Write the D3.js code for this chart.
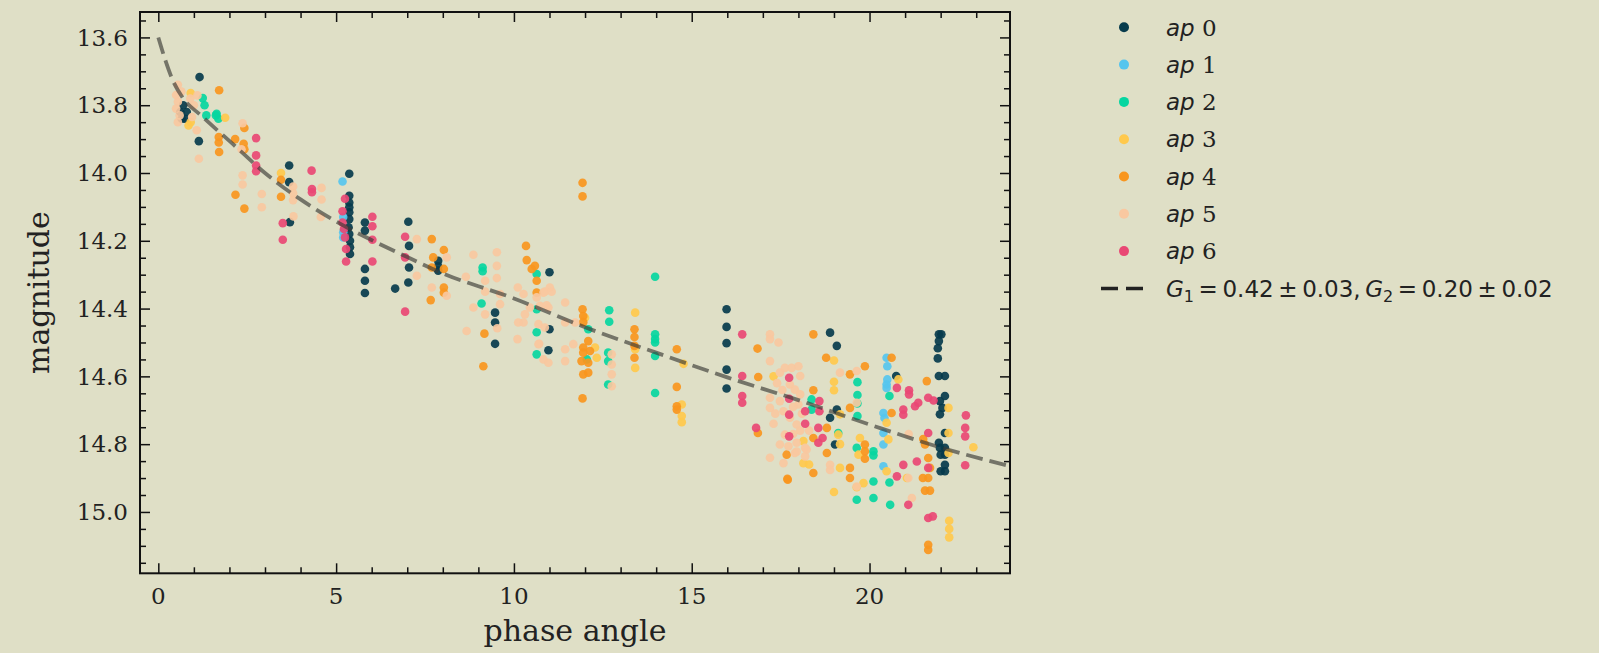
<!DOCTYPE html>
<html><head><meta charset="utf-8">
<script src="https://cdn.jsdelivr.net/npm/d3@7"></script>
<style>html,body{margin:0;padding:0;background:#dfdfc6;}svg{display:block;}</style>
</head><body><svg id="c" width="1599" height="653"></svg>
<script>
const seriesNames = ["0","1","2","3","4","5","6"];
const seriesColors = ["#073B4C","#56C5EE","#06D6A0","#FFC94C","#F8961E","#F9C8A0","#E94874"];

const ap0 = [[0.70,13.80],[0.80,13.82],[0.75,13.84],[0.66,13.84],[0.62,13.82],[1.16,13.717],[1.14,13.906],
[3.68,13.978],[3.68,14.027],[3.70,14.145],[5.37,14.002],[5.37,14.067],[5.37,14.087],[5.37,14.101],[5.37,14.116],[5.37,14.136],[5.35,14.16],[5.37,14.18],[5.39,14.200],[5.39,14.219],[5.39,14.239],
[5.81,14.146],[5.81,14.17],[5.81,14.283],[5.81,14.318],[5.81,14.354],[6.66,14.341],[7.03,14.144],[7.05,14.215],[7.05,14.279],[7.03,14.323],[7.87,14.259],[7.87,14.275],[7.87,14.288],
[9.47,14.412],[9.47,14.441],[9.47,14.504],[11.0,14.293],[11.0,14.461],[10.97,14.523],
[15.98,14.402],[15.98,14.454],[15.98,14.502],[15.98,14.58],[15.98,14.636],
[18.89,14.471],[19.08,14.51],[18.89,14.722],[19.08,14.698],[19.03,14.801],[20.75,14.599],
[21.95,14.476],[22.02,14.476],[21.95,14.496],[21.92,14.517],[21.92,14.547],[21.95,14.599],[22.12,14.599],[22.12,14.658],[21.98,14.673],[22.05,14.693],[21.98,14.712],[22.12,14.767],[21.95,14.796],[21.98,14.811],[22.12,14.811],[22.0,14.831],[22.12,14.831],[22.12,14.861],[22.0,14.88],[22.12,14.88]];
const ap1 = [[5.18,14.025],[5.2,14.13],[5.2,14.175],[5.2,14.19],[20.48,14.545],[20.5,14.57],[20.5,14.609],[20.48,14.624],[20.48,14.634],[20.39,14.708],[20.42,14.723],[20.39,14.767],[20.39,14.801],[20.39,14.865]];
const ap2 = [[1.25,13.779],[1.3,13.80],[1.64,13.825],[1.69,13.84],[1.62,13.83],[1.35,13.83],
[9.12,14.279],[9.12,14.29],[9.09,14.385],[10.64,14.298],[10.64,14.402],[10.64,14.47],[10.64,14.535],
[12.09,14.461],[12.05,14.55],[12.68,14.405],[12.68,14.439],[12.65,14.53],[12.65,14.555],[12.65,14.624],
[13.97,14.306],[13.97,14.476],[13.97,14.49],[13.97,14.5],[13.97,14.54],[13.97,14.649],
[18.37,14.668],[18.37,14.698],[19.12,14.767],[19.66,14.617],[19.66,14.655],[19.66,14.68],[19.66,14.717],[20.56,14.658],
[19.64,14.811],[20.11,14.821],[20.11,14.833],[20.11,14.91],[20.56,14.913],[19.64,14.964],[20.11,14.959],[20.58,14.979]];
const ap3 = [[0.91,13.764],[0.91,13.85],[0.85,13.86],[1.88,13.837],[3.45,14.00],
[12.0,14.427],[12.28,14.515],[12.33,14.545],[13.41,14.412],[13.41,14.52],[13.41,14.575],[14.77,14.563],[14.72,14.683],[14.72,14.717],[14.72,14.735],
[19.0,14.553],[19.0,14.616],[19.0,14.641],[18.14,14.856],[18.14,14.791],[19.17,14.87],[19.0,14.941],[19.17,14.8],[19.17,14.712],[19.12,14.772],
[19.73,14.782],[19.69,14.831],[19.83,14.915],[19.64,14.927],[20.81,14.609],[20.48,14.737],[20.53,14.786],[20.48,14.88],[21.05,14.9],
[22.22,14.693],[22.22,14.767],[22.22,14.826],[22.92,14.809],[22.24,15.026],[22.24,15.05],[22.24,15.075],[17.3,14.6],[18.3,14.86]];
const ap4 = [[1.71,13.756],[1.70,13.894],[1.70,13.91],[1.71,13.938],[2.42,13.867],[2.16,13.90],[2.40,13.914],[2.42,13.93],[2.17,14.064],[2.42,14.105],[3.45,14.02],[3.45,14.07],
[7.69,14.195],[8.03,14.227],[7.73,14.249],[7.69,14.279],[8.03,14.283],[8.03,14.338],[8.03,14.353],[7.66,14.375],[9.17,14.474],[9.14,14.57],
[10.34,14.215],[10.36,14.257],[10.5,14.283],[10.59,14.274],[10.64,14.318],[10.64,14.353],
[11.93,14.029],[11.93,14.069],[11.93,14.402],[11.95,14.422],[11.95,14.44],[12.09,14.496],[11.95,14.515],[12.14,14.525],[11.95,14.53],[11.9,14.555],[12.09,14.56],[11.95,14.594],[12.09,14.589],[11.93,14.665],
[13.39,14.461],[13.39,14.484],[13.39,14.51],[13.39,14.545],[14.58,14.52],[14.58,14.631],[14.58,14.688],[14.58,14.698],
[16.85,14.518],[16.87,14.602],[16.86,14.767],[18.42,14.476],[18.78,14.545],[18.42,14.641],[18.8,14.752],[17.67,14.831],[18.42,14.885],[17.69,14.902],[18.8,14.826],[18.42,14.782],
[19.45,14.594],[19.87,14.57],[19.45,14.87],[19.45,14.9],[19.45,14.693],[19.87,14.801],[19.87,14.821],[19.87,14.843],[20.62,14.545],[20.62,14.708],
[21.61,14.614],[21.65,14.841],[21.65,14.9],[21.5,14.9],[21.56,14.937],[21.7,14.937],[21.65,15.097],[21.65,15.112],[21.51,14.785],[21.56,14.801],[21.7,14.87],[17.7,14.905]];
const ap5 = [[0.55,13.74],[0.5,13.77],[0.55,13.79],[0.5,13.81],[0.6,13.83],[0.55,13.85],[0.9,13.78],[1.0,13.80],[0.95,13.835],[1.10,13.771],[1.08,13.874],[1.14,13.958],[0.65,13.76],
[2.37,13.853],[2.34,13.93],[2.37,14.007],[2.37,14.034],[2.91,14.062],[2.91,14.101],[3.79,14.04],[3.79,14.06],[3.79,14.08],[3.80,14.128],[4.59,14.044],[4.59,14.078],[4.57,14.13],
[7.27,14.195],[7.27,14.303],[8.11,14.249],[7.69,14.338],[8.11,14.362],[8.86,14.241],[8.65,14.306],[9.52,14.234],[9.52,14.274],[9.52,14.31],[9.61,14.357],[9.61,14.387],[9.19,14.318],[9.19,14.35],[8.86,14.397],[9.19,14.417],[8.67,14.466],[9.53,14.458],[10.1,14.49],
[10.11,14.338],[10.27,14.357],[10.31,14.417],[10.27,14.441],[10.45,14.397],[10.64,14.367],[10.83,14.353],[11.01,14.338],[10.73,14.392],[10.97,14.397],[10.69,14.446],[10.69,14.505],[10.83,14.55],[10.12,14.441],
[10.87,14.35],[11.06,14.35],[10.92,14.39],[10.87,14.456],[10.71,14.504],[10.97,14.56],[11.44,14.382],[11.44,14.441],[11.44,14.52],[11.44,14.555],[11.72,14.441],[11.67,14.505],
[12.75,14.535],[12.75,14.565],[12.75,14.594],[12.75,14.629],
[17.2,14.476],[17.2,14.49],[17.44,14.5],[17.2,14.555],[17.2,14.663],[17.2,14.693],[17.2,14.84],[17.48,14.589],[17.62,14.575],[17.81,14.575],[18.0,14.57],[18.05,14.599],[17.76,14.624],[17.9,14.639],[18.05,14.653],[18.0,14.683],
[17.48,14.673],[17.58,14.703],[17.76,14.722],[17.95,14.742],[17.62,14.772],[17.48,14.801],[17.72,14.806],[17.95,14.796],[17.9,14.826],[18.19,14.811],[18.19,14.836],[17.58,14.856],[17.95,14.822],[18.23,14.816],
[18.89,14.861],[18.89,14.876],[19.17,14.589],[19.64,14.584],[19.64,14.678],[21.09,14.9],[21.19,14.959],[19.64,14.925],[17.4,14.62],[17.3,14.74],[18.1,14.71],[21.1,14.77],
[17.55,14.64],[17.85,14.69],[18.3,14.76],[17.35,14.71],[18.05,14.76],[17.85,14.77]];
const ap6 = [[2.75,13.897],[2.75,13.948],[2.75,13.978],[2.75,13.995],[3.50,14.148],[3.50,14.197],[4.31,13.993],[4.32,14.047],[4.32,14.057],
[5.25,14.076],[5.18,14.113],[5.18,14.146],[5.22,14.165],[5.25,14.19],[5.28,14.224],[5.28,14.261],
[6.02,14.129],[6.02,14.157],[6.02,14.197],[6.02,14.261],[6.94,14.188],[6.94,14.249],[6.94,14.409],
[16.42,14.476],[16.42,14.599],[16.42,14.658],[16.42,14.678],[16.81,14.752],
[17.74,14.604],[17.74,14.666],[17.74,14.713],[17.74,14.777],[18.19,14.703],[18.19,14.74],[18.59,14.673],[18.59,14.703],[18.56,14.752],[18.68,14.782],[18.56,14.796],
[20.77,14.634],[21.11,14.641],[21.11,14.653],[21.28,14.688],[21.37,14.678],[20.95,14.698],[20.95,14.713],[21.65,14.663],[21.8,14.671],[22.71,14.715],[22.69,14.752],[22.69,14.777],[22.69,14.862],
[21.65,14.767],[21.65,15.018],[21.78,15.013],[21.09,14.979],[20.95,14.861],[20.77,14.895],[21.33,14.851],[21.65,14.87]];
const seriesData = [ap0, ap1, ap2, ap3, ap4, ap5, ap6];

const fitAngle = [0,0.1,0.2,0.4,0.7,1.2,2.1,3.0,4.0,5.0,6.0,7.0,8.0,10.0,12.0,14.0,16.0,18.0,20.0,22.0,23.95];
const fitMag   = [13.60,13.635,13.668,13.725,13.78,13.83,13.915,14.0,14.078,14.143,14.198,14.248,14.296,14.37,14.455,14.53,14.603,14.67,14.742,14.81,14.865];
const fitLabel = ["G","1"," = 0.42 ± 0.03, ","G","2"," = 0.20 ± 0.02"];

const xTicks = [0,5,10,15,20];
const yTicks = [13.6,13.8,14.0,14.2,14.4,14.6,14.8,15.0];

const svg = d3.select("#c");
const L=140, T=12, R=1010, B=573.3;
const x = d3.scaleLinear().domain([-0.515, 23.95]).range([L, R]);
const y = d3.scaleLinear().domain([13.525, 15.181]).range([T, B]);

const serif = "'DejaVu Serif', serif";
const sans = "'DejaVu Sans', sans-serif";

// points
seriesData.forEach((arr, i) => {
  svg.append("g").selectAll("circle").data(arr).join("circle")
    .attr("cx", d => x(d[0])).attr("cy", d => y(d[1])).attr("r", 4.3)
    .attr("fill", seriesColors[i]).attr("fill-opacity", 0.92);
});

// fit line
const fit = fitAngle.map((a, i) => [a, fitMag[i]]);
svg.append("path").datum(fit)
  .attr("d", d3.line().x(d => x(d[0])).y(d => y(d[1])).curve(d3.curveMonotoneX))
  .attr("fill", "none").attr("stroke", "#3a3a36").attr("stroke-opacity", 0.65)
  .attr("stroke-width", 3.8).attr("stroke-dasharray", "17,7");

// axes (ticks inward on all four sides)
function tickAxis(make, tr, major, minor){
  const gMinor = svg.append("g").attr("transform", tr).call(make().tickValues(minor).tickSize(6).tickFormat(""));
  const g = svg.append("g").attr("transform", tr).call(make().tickValues(major).tickSize(10).tickFormat(""));
  [g, gMinor].forEach(gg => {
    gg.select(".domain").remove();
    gg.selectAll(".tick line").attr("stroke", "#111").attr("stroke-width", 1.5);
  });
}
const xMinor = d3.range(0, 24, 1).filter(v => v % 5 !== 0);
const yMinor = d3.range(13.55, 15.18, 0.05).map(v => +v.toFixed(2)).filter(v => Math.round(v * 100) % 20 !== 0);

tickAxis(() => d3.axisTop(x), `translate(0,${B})`, xTicks, xMinor);
tickAxis(() => d3.axisBottom(x), `translate(0,${T})`, xTicks, xMinor);
tickAxis(() => d3.axisRight(y), `translate(${L},0)`, yTicks, yMinor);
tickAxis(() => d3.axisLeft(y), `translate(${R},0)`, yTicks, yMinor);

// tick labels
svg.append("g").selectAll("text").data(xTicks).join("text")
  .attr("x", d => x(d)).attr("y", 603.5).attr("text-anchor", "middle")
  .attr("font-family", serif).attr("font-size", 23).attr("fill", "#222").text(d => d3.format("d")(d));
svg.append("g").selectAll("text").data(yTicks).join("text")
  .attr("x", 128).attr("y", d => y(d)).attr("dy", "0.36em").attr("text-anchor", "end")
  .attr("font-family", serif).attr("font-size", 23).attr("fill", "#222").text(d => d3.format(".1f")(d));

// frame
svg.append("rect").attr("x", L).attr("y", T).attr("width", R - L).attr("height", B - T)
  .attr("fill", "none").attr("stroke", "#111").attr("stroke-width", 2);

// axis labels
svg.append("text").attr("x", (L + R) / 2).attr("y", 641).attr("text-anchor", "middle")
  .attr("font-family", serif).attr("font-size", 30).attr("fill", "#222").text("phase angle");
svg.append("text").attr("transform", `translate(49,${(T + B) / 2}) rotate(-90)`).attr("text-anchor", "middle")
  .attr("font-family", serif).attr("font-size", 30).attr("fill", "#222").text("magnitude");

// legend
const lg = svg.append("g");
const rowY = i => 27.3 + i * 37.3;
seriesNames.forEach((n, i) => {
  lg.append("circle").attr("cx", 1124).attr("cy", rowY(i)).attr("r", 5).attr("fill", seriesColors[i]);
  const t = lg.append("text").attr("x", 1166).attr("y", rowY(i)).attr("dy", "0.36em")
    .attr("font-size", 23).attr("fill", "#222");
  t.append("tspan").attr("font-family", sans).attr("font-style", "italic").text("ap");
  t.append("tspan").attr("font-family", serif).text("\u00a0" + n);
});
const ly = rowY(7);
lg.append("line").attr("x1", 1101).attr("x2", 1143).attr("y1", ly).attr("y2", ly)
  .attr("stroke", "#222").attr("stroke-width", 3.5).attr("stroke-dasharray", "17,8");
const ft = lg.append("text").attr("x", 1166).attr("y", ly).attr("dy", "0.36em")
  .attr("font-family", sans).attr("font-size", 23).attr("fill", "#222");
fitLabel.forEach((s, i) => {
  if (s === "G") ft.append("tspan").attr("font-style", "italic").text("G");
  else if (s === "1" || s === "2") ft.append("tspan").attr("font-size", 16).attr("dy", 5).text(s);
  else ft.append("tspan").attr("dy", -5).text(s.replace(/ /g, "\u2009"));
});
</script></body></html>
